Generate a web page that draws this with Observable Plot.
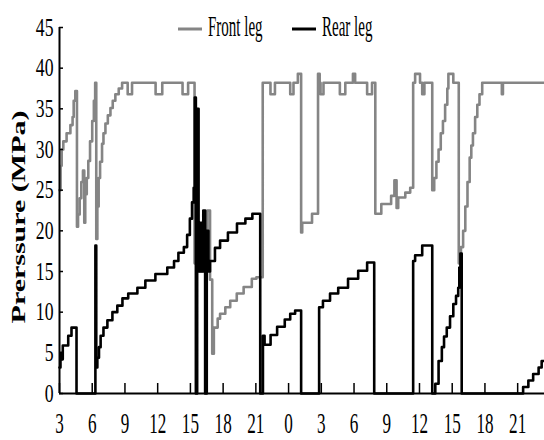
<!DOCTYPE html>
<html><head><meta charset="utf-8">
<script src="https://cdn.jsdelivr.net/npm/d3@7"></script>
<script src="https://cdn.jsdelivr.net/npm/@observablehq/plot@0.6"></script>
<style>body{margin:0;background:#fff} #chart{width:544px;height:440px}</style>
</head><body><div id="chart"></div>
<script>
const seriesNames = ["Front leg", "Rear leg"];
const seriesColors = ["#858585", "#000000"];
const yTitle = "Prerssure (MPa)";

// hours from 03:00 of day 1 (24 = 00:00 of day 2)
const frontTime = [3.0,3.1,3.2,3.35,3.65,4.0,4.2,4.3,4.45,4.6,4.7,4.85,5.0,5.15,5.27,5.36,5.5,5.64,5.8,6.0,6.15,6.27,6.37,6.47,6.59,6.72,6.9,7.03,7.21,7.43,7.67,7.88,8.12,8.43,8.74,9.25,9.65,11.81,12.42,14.28,14.79,15.38,15.65,15.85,16.1,16.3,16.55,16.8,17.0,17.15,17.5,17.72,18.2,18.65,19.25,19.88,20.63,21.05,21.63,22.34,22.75,24.15,24.45,24.85,25.15,25.25,26.15,26.7,26.85,26.93,27.2,28.7,29.2,29.9,30.1,31.2,31.65,31.95,32.5,33.4,33.7,33.9,34.05,34.7,35.15,35.42,35.6,36.05,36.25,36.45,37.17,37.35,37.55,37.75,37.95,38.15,38.35,38.55,38.65,39.1,39.6,39.8,40.0,40.2,40.4,40.6,40.75,40.9,41.1,41.3,41.5,41.75,43.55,43.65,47.46];
const frontValue = [25,28,30,31,32,33,34,36,37.2,20.5,22,24,26,27.4,21,24.5,26.5,28.6,31,33.5,36,38.2,19,23,26.5,28.5,30.7,32,33.2,34.2,35.1,36,36.8,37.5,38.2,36.8,38.2,36.8,38.2,36.8,38.2,16,18,15,20,17,22.5,14,4.9,8.1,9.2,9.8,10.6,11.4,12.3,13.1,14.1,14.3,38.2,36.8,38.2,36.8,38.2,39.3,19.8,21.0,22.1,39.3,38.2,36.8,38.2,36.8,38.2,39.3,38.2,36.8,38.2,22.1,23.3,24.3,26.2,22.8,24.1,24.7,25.3,38.2,39.3,38.2,36.8,38.2,25,26.5,28.5,30,32,33.5,35.5,37.5,39.3,38.2,16,18,20,23,26,29,30.5,32,34,35.5,36.8,38.2,36.8,38.2,38.2];

const rearTime = [3.0,3.09,3.2,3.3,3.8,4.1,4.56,6.29,6.37,6.47,6.62,6.77,7.03,7.39,7.85,8.3,8.77,9.3,10.14,10.87,11.79,12.88,13.5,13.9,14.4,14.7,14.95,15.15,15.3,15.4,15.5,15.62,15.75,15.9,16.05,16.18,16.35,16.5,16.65,16.8,17.25,17.72,18.44,19.27,20.04,20.68,21.4,21.65,21.8,22.35,22.95,23.65,24.15,24.6,25.15,26.8,27.15,27.8,28.55,29.45,30.38,31.2,31.85,35.42,35.6,36.25,37.17,37.45,37.75,38.05,38.25,38.5,38.8,39.1,39.35,39.55,39.65,39.75,39.87,45.5,45.98,46.42,46.92,47.2,47.46];
const rearValue = [3.2,5.0,4.2,5.9,7.1,8.1,0,18.2,3.2,4.4,5.7,7.1,8.1,9.0,10.0,10.8,11.7,12.3,13.0,13.9,14.7,15.5,16.3,17.3,18.0,19.5,21.5,23.5,25.3,36.4,0,35,15,21,15,22.5,0,20,15,16.3,17.9,18.8,19.8,20.9,21.5,22.1,0,7.1,6.0,7.2,8.2,9.1,9.8,10.2,0,10.6,11.4,12.3,13.0,14.1,15.1,16.1,0,16.3,17.0,18.2,0,1.2,4.0,5.7,7.0,8.1,9.5,11,12,13,15.5,17.2,0,0.8,1.6,2.4,3.2,4.0,4.0];

const xTicks = [3,6,9,12,15,18,21,24,27,30,33,36,39,42,45];
const yTicks = [0,5,10,15,20,25,30,35,40,45];

const frontRows = frontTime.map((t, i) => ({t, v: frontValue[i]}));
const rearRows = rearTime.map((t, i) => ({t, v: rearValue[i]}));

const plot = Plot.plot({
  width: 544, height: 440,
  marginLeft: 59, marginRight: 0, marginTop: 27, marginBottom: 47,
  style: {fontFamily: "'Liberation Serif', 'Times New Roman', serif", background: "#fff", color: "#000"},
  x: {domain: [3, 47.46]},
  y: {domain: [0, 45]},
  marks: [
    Plot.line(frontRows, {x: "t", y: "v", curve: "step-after", stroke: seriesColors[0], strokeWidth: 2.6}),
    Plot.line(rearRows, {x: "t", y: "v", curve: "step-after", stroke: seriesColors[1], strokeWidth: 2.6}),
    Plot.ruleY([0], {strokeWidth: 2}),
    Plot.ruleX([3], {strokeWidth: 2}),
    Plot.axisX(xTicks, {tickSize: 10, dy: -10, tickPadding: 18, tickFormat: d => String(d % 24), fontSize: 30, label: null, strokeWidth: 1.5}),
    Plot.axisY(yTicks, {tickSize: 4, dx: 4, tickPadding: 6, fontSize: 26, label: null, strokeWidth: 1.5})
  ]
});
document.getElementById("chart").append(plot);

const svg = d3.select(plot);
svg.selectAll('g[aria-label="x-axis tick label"]').attr("font-size", 30);
svg.selectAll('g[aria-label="y-axis tick label"]').attr("font-size", 26);
function squeeze(sel, f) {
  sel.each(function() {
    const L = this.getComputedTextLength();
    this.setAttribute("textLength", L * f);
    this.setAttribute("lengthAdjust", "spacingAndGlyphs");
  });
}
squeeze(svg.selectAll('g[aria-label="x-axis tick label"] text'), 0.57);
squeeze(svg.selectAll('g[aria-label="y-axis tick label"] text'), 0.68);

// legend
const legendX = [178, 292];
const lg = svg.append("g").attr("font-family", "'Liberation Serif', serif").attr("text-anchor", "start");
seriesNames.forEach((name, i) => {
  lg.append("line").attr("x1", legendX[i]).attr("x2", legendX[i] + 24)
    .attr("y1", 29).attr("y2", 29).attr("stroke", seriesColors[i]).attr("stroke-width", 3);
  const t = lg.append("text").attr("x", legendX[i] + 30).attr("y", 36)
    .attr("text-anchor", "start")
    .attr("font-size", 30).attr("fill", "#000").text(name);
  squeeze(t, 0.5);
});

// y title
svg.append("text")
  .attr("transform", "translate(19,217) scale(0.6,1) rotate(-90)")
  .attr("text-anchor", "middle").attr("dy", "0.35em")
  .attr("font-family", "'Liberation Serif', serif").attr("font-weight", "bold")
  .attr("font-size", 30).attr("fill", "#000").text(yTitle);
</script>
</body></html>
